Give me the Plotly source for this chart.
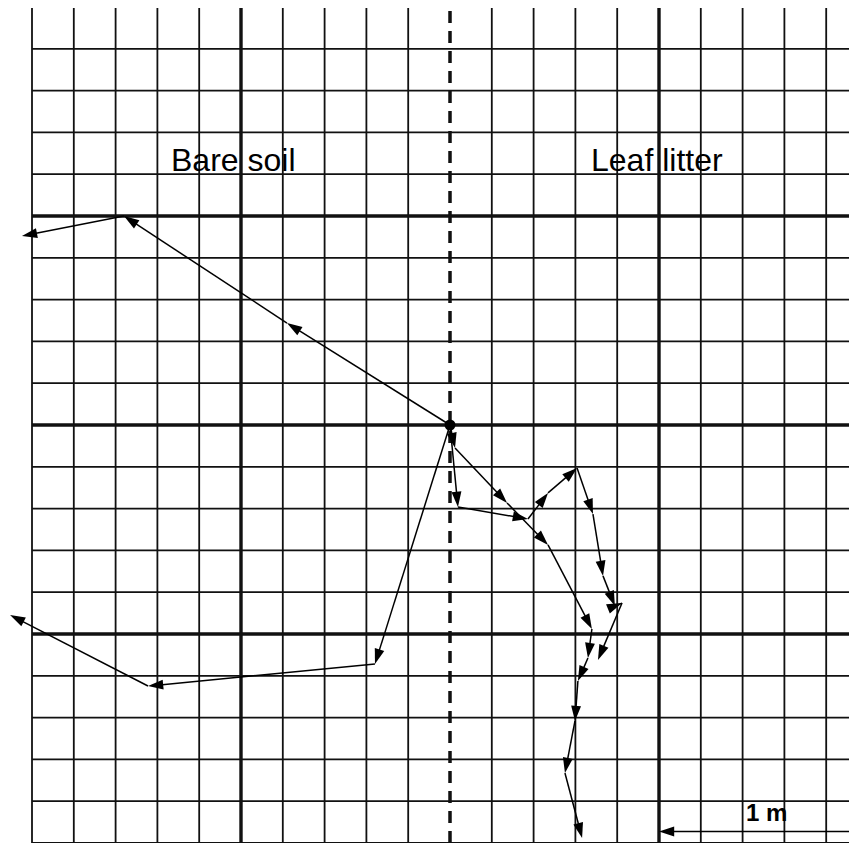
import plotly.graph_objects as go

track1_x = [0, -0.780, -1.560, -2.048]
track1_y = [0, 0.488, 1.000, 0.904]

track2_x = [0, -0.359, -1.445, -2.105]
track2_y = [0, -1.144, -1.249, -0.909]

track3_x = [0, 0.038, 0.373, 0.469, 0.608, 0.684, 0.732, 0.789, 0.823, 0.708]
track3_y = [0, -0.392, -0.450, -0.325, -0.206, -0.426, -0.722, -0.866, -0.852, -1.124]

track4_x = [0, 0.024, 0.273, 0.469, 0.679, 0.660, 0.612, 0.598, 0.550, 0.632]
track4_y = [0, -0.110, -0.373, -0.574, -0.976, -1.115, -1.225, -1.416, -1.665, -1.976]

tracks = [(track1_x, track1_y), (track2_x, track2_y),
          (track3_x, track3_y), (track4_x, track4_y)]

labels = ["Bare soil", "Leaf litter"]
label_x = [-1.036, 0.990]
label_y = [1.270, 1.270]

scale_x = [2.0, 1.0]
scale_y = [-1.945, -1.945]

fig = go.Figure()

# grid: 0.2 m cells, heavy line every metre, dashed boundary between habitats
shapes = []
for i in range(-10, 11):
    v = i * 0.2
    if i == 0:
        w, dash = 3.5, "12px,8px"
    elif i in (-5, 5):
        w, dash = 3.4, "solid"
    else:
        w, dash = 1.8, "solid"
    shapes.append(dict(type="line", x0=v, x1=v, y0=-2.0, y1=2.0, layer="below",
                       line=dict(color="#111", width=w, dash=dash)))
    hw = 3.4 if i in (-5, 0, 5) else 1.8
    shapes.append(dict(type="line", x0=-2.0, x1=2.0, y0=v, y1=v, layer="below",
                       line=dict(color="#111", width=hw)))

for tx, ty in tracks:
    fig.add_trace(go.Scatter(
        x=tx, y=ty, mode="lines+markers",
        line=dict(color="black", width=1.5),
        marker=dict(symbol="arrow", angleref="previous", size=16, color="black"),
        showlegend=False, hoverinfo="skip"))

# release point
fig.add_trace(go.Scatter(x=[0], y=[0], mode="markers",
                         marker=dict(color="black", size=11),
                         showlegend=False, hoverinfo="skip"))

# 1 m scale bar
fig.add_trace(go.Scatter(
    x=scale_x, y=scale_y, mode="lines+markers",
    line=dict(color="black", width=1.5),
    marker=dict(symbol="arrow", angleref="previous", size=16, color="black"),
    showlegend=False, hoverinfo="skip"))

for t, lx, ly in zip(labels, label_x, label_y):
    fig.add_annotation(x=lx, y=ly, text=t, showarrow=False,
                       font=dict(family="Liberation Sans, Arial", size=32, color="black"))

fig.add_annotation(x=1.512, y=-1.856, text="<b>1 m</b>", showarrow=False,
                   font=dict(family="Liberation Sans, Arial", size=24, color="black"))

# page body keeps an 8px margin, so the figure covers pixels 8..857 / 8..843
fig.update_layout(
    width=849, height=835,
    margin=dict(l=0, r=0, t=0, b=0),
    paper_bgcolor="white", plot_bgcolor="white",
    shapes=shapes,
    xaxis=dict(range=[-442 / 209, 407 / 209], visible=False, fixedrange=True),
    yaxis=dict(range=[-418 / 209, 417 / 209], visible=False, fixedrange=True),
)

fig.write_html("out.html")
